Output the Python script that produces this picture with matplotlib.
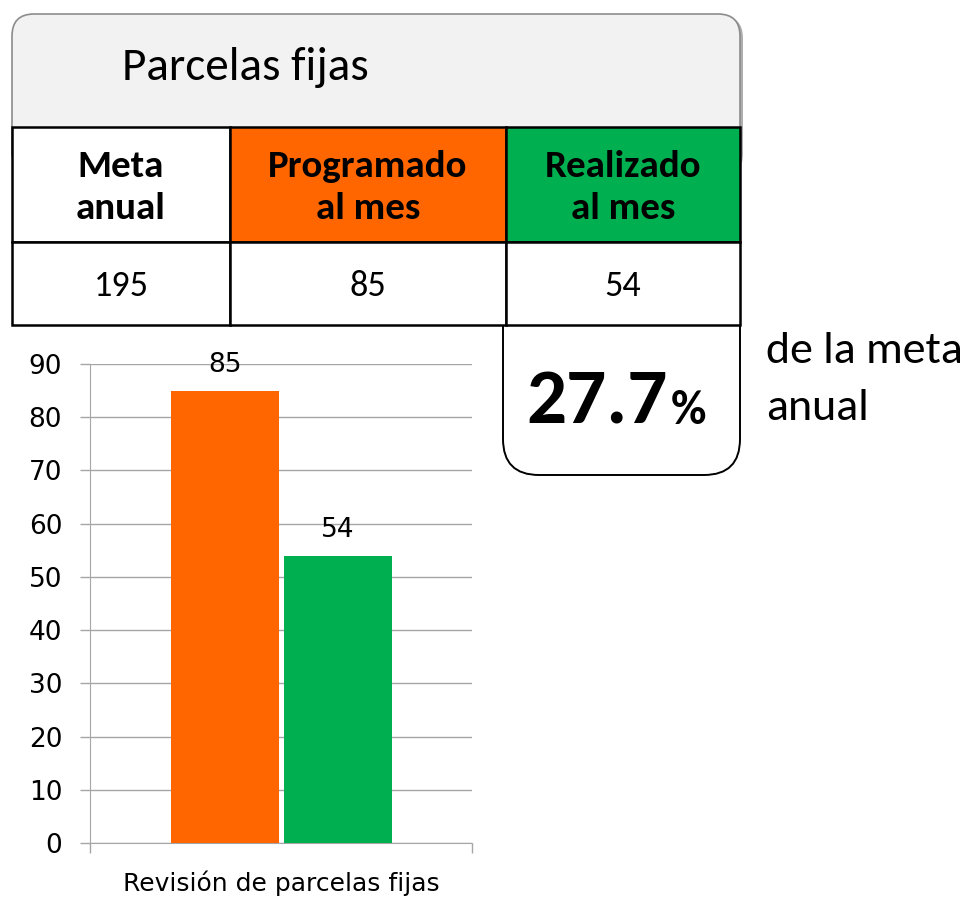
import numpy as np
import matplotlib.pyplot as plt
from matplotlib.patches import FancyBboxPatch, Rectangle

# Data
categories = ['Programado al mes', 'Realizado al mes']
values = [85, 54]
bar_colors = ['#FF6600', '#00B050']
title_text = 'Parcelas fijas'
header_labels = ['Meta\nanual', 'Programado\nal mes', 'Realizado\nal mes']
header_fills = ['white', '#FF6600', '#00B050']
table_values = [195, 85, 54]
pct_value = 27.7
pct_caption = 'de la meta\nanual'
x_label = 'Revisión de parcelas fijas'
y_ticks = list(range(0, 100, 10))

W, H = 976, 898
NARROW = ['Carlito', 'Liberation Sans Narrow', 'DejaVu Sans']

fig = plt.figure(figsize=(W / 100, H / 100), dpi=100)

# overlay in pixel coords for boxes / table
ov = fig.add_axes([0, 0, 1, 1])
ov.set_xlim(0, W)
ov.set_ylim(H, 0)
ov.axis('off')

# title box (rounded, light gray with shadow)
shadow = FancyBboxPatch((14, 16), 729, 160, boxstyle='round,pad=0,rounding_size=22',
                        fc='#8C8C8C', ec='none', alpha=0.7, zorder=1)
ov.add_patch(shadow)
tbox = FancyBboxPatch((12, 14), 728, 160, boxstyle='round,pad=0,rounding_size=22',
                      fc='#F2F2F2', ec='#8C8C8C', lw=1.2, zorder=2)
ov.add_patch(tbox)
ov.text(122, 67, title_text, fontsize=34, family=NARROW, va='center', ha='left', zorder=3)

# percentage box with rounded bottom
pbox = FancyBboxPatch((503, 280), 237, 195, boxstyle='round,pad=0,rounding_size=36',
                      fc='white', ec='black', lw=1.4, zorder=2)
ov.add_patch(pbox)

# table
col_x = [12, 230, 506, 740]
row_y = [127, 242, 325]
for i in range(3):
    x0, x1 = col_x[i], col_x[i + 1]
    ov.add_patch(Rectangle((x0, row_y[0]), x1 - x0, row_y[1] - row_y[0],
                           fc=header_fills[i], ec='black', lw=1.8, zorder=4))
    ov.add_patch(Rectangle((x0, row_y[1]), x1 - x0, row_y[2] - row_y[1],
                           fc='white', ec='black', lw=1.8, zorder=4))
    cx = (x0 + x1) / 2
    ov.text(cx, (row_y[0] + row_y[1]) / 2 + 3, header_labels[i], fontsize=28,
            fontweight='bold', family=NARROW, ha='center', va='center',
            linespacing=1.35, zorder=5)
    ov.text(cx, (row_y[1] + row_y[2]) / 2 + 3, str(table_values[i]), fontsize=26,
            family=NARROW, ha='center', va='center', zorder=5)

# percentage text
ov.text(668, 424, f'{pct_value:.1f}', fontsize=57, fontweight='bold', family=NARROW,
        ha='right', va='baseline', zorder=5)
ov.text(671, 424, '%', fontsize=35, fontweight='bold', family=NARROW,
        ha='left', va='baseline', zorder=5)
cap1, cap2 = pct_caption.split('\n')
ov.text(766, 363, cap1, fontsize=33, family=NARROW, ha='left', va='baseline', zorder=5)
ov.text(766, 420, cap2, fontsize=33, family=NARROW, ha='left', va='baseline', zorder=5)

# bar chart
ax = fig.add_axes([90 / W, 1 - 843 / H, (472 - 90) / W, (843 - 364) / H])
ax.set_facecolor('none')
offsets = [-0.515, 0.52]
bars = ax.bar(offsets, values, width=0.99, color=bar_colors, zorder=3)
ax.bar_label(bars, labels=[str(v) for v in values], padding=9, fontsize=19)
ax.set_xlim(-1.75, 1.75)
ax.set_ylim(0, 90)
ax.set_yticks(y_ticks)
ax.tick_params(axis='y', length=7, width=1, color='#A6A6A6', pad=13, labelsize=19)
ax.set_xticks([-1.75, 1.75])
ax.set_xticklabels(['', ''])
ax.tick_params(axis='x', length=7, width=1, color='#A6A6A6')
ax.grid(axis='y', color='#A6A6A6', lw=1, zorder=0)
for s in ['top', 'right']:
    ax.spines[s].set_visible(False)
ax.spines['left'].set_color('#A6A6A6')
ax.spines['bottom'].set_color('#A6A6A6')
ax.set_xlabel(x_label, fontsize=18, labelpad=9)

fig.savefig('out.png', dpi=100)
